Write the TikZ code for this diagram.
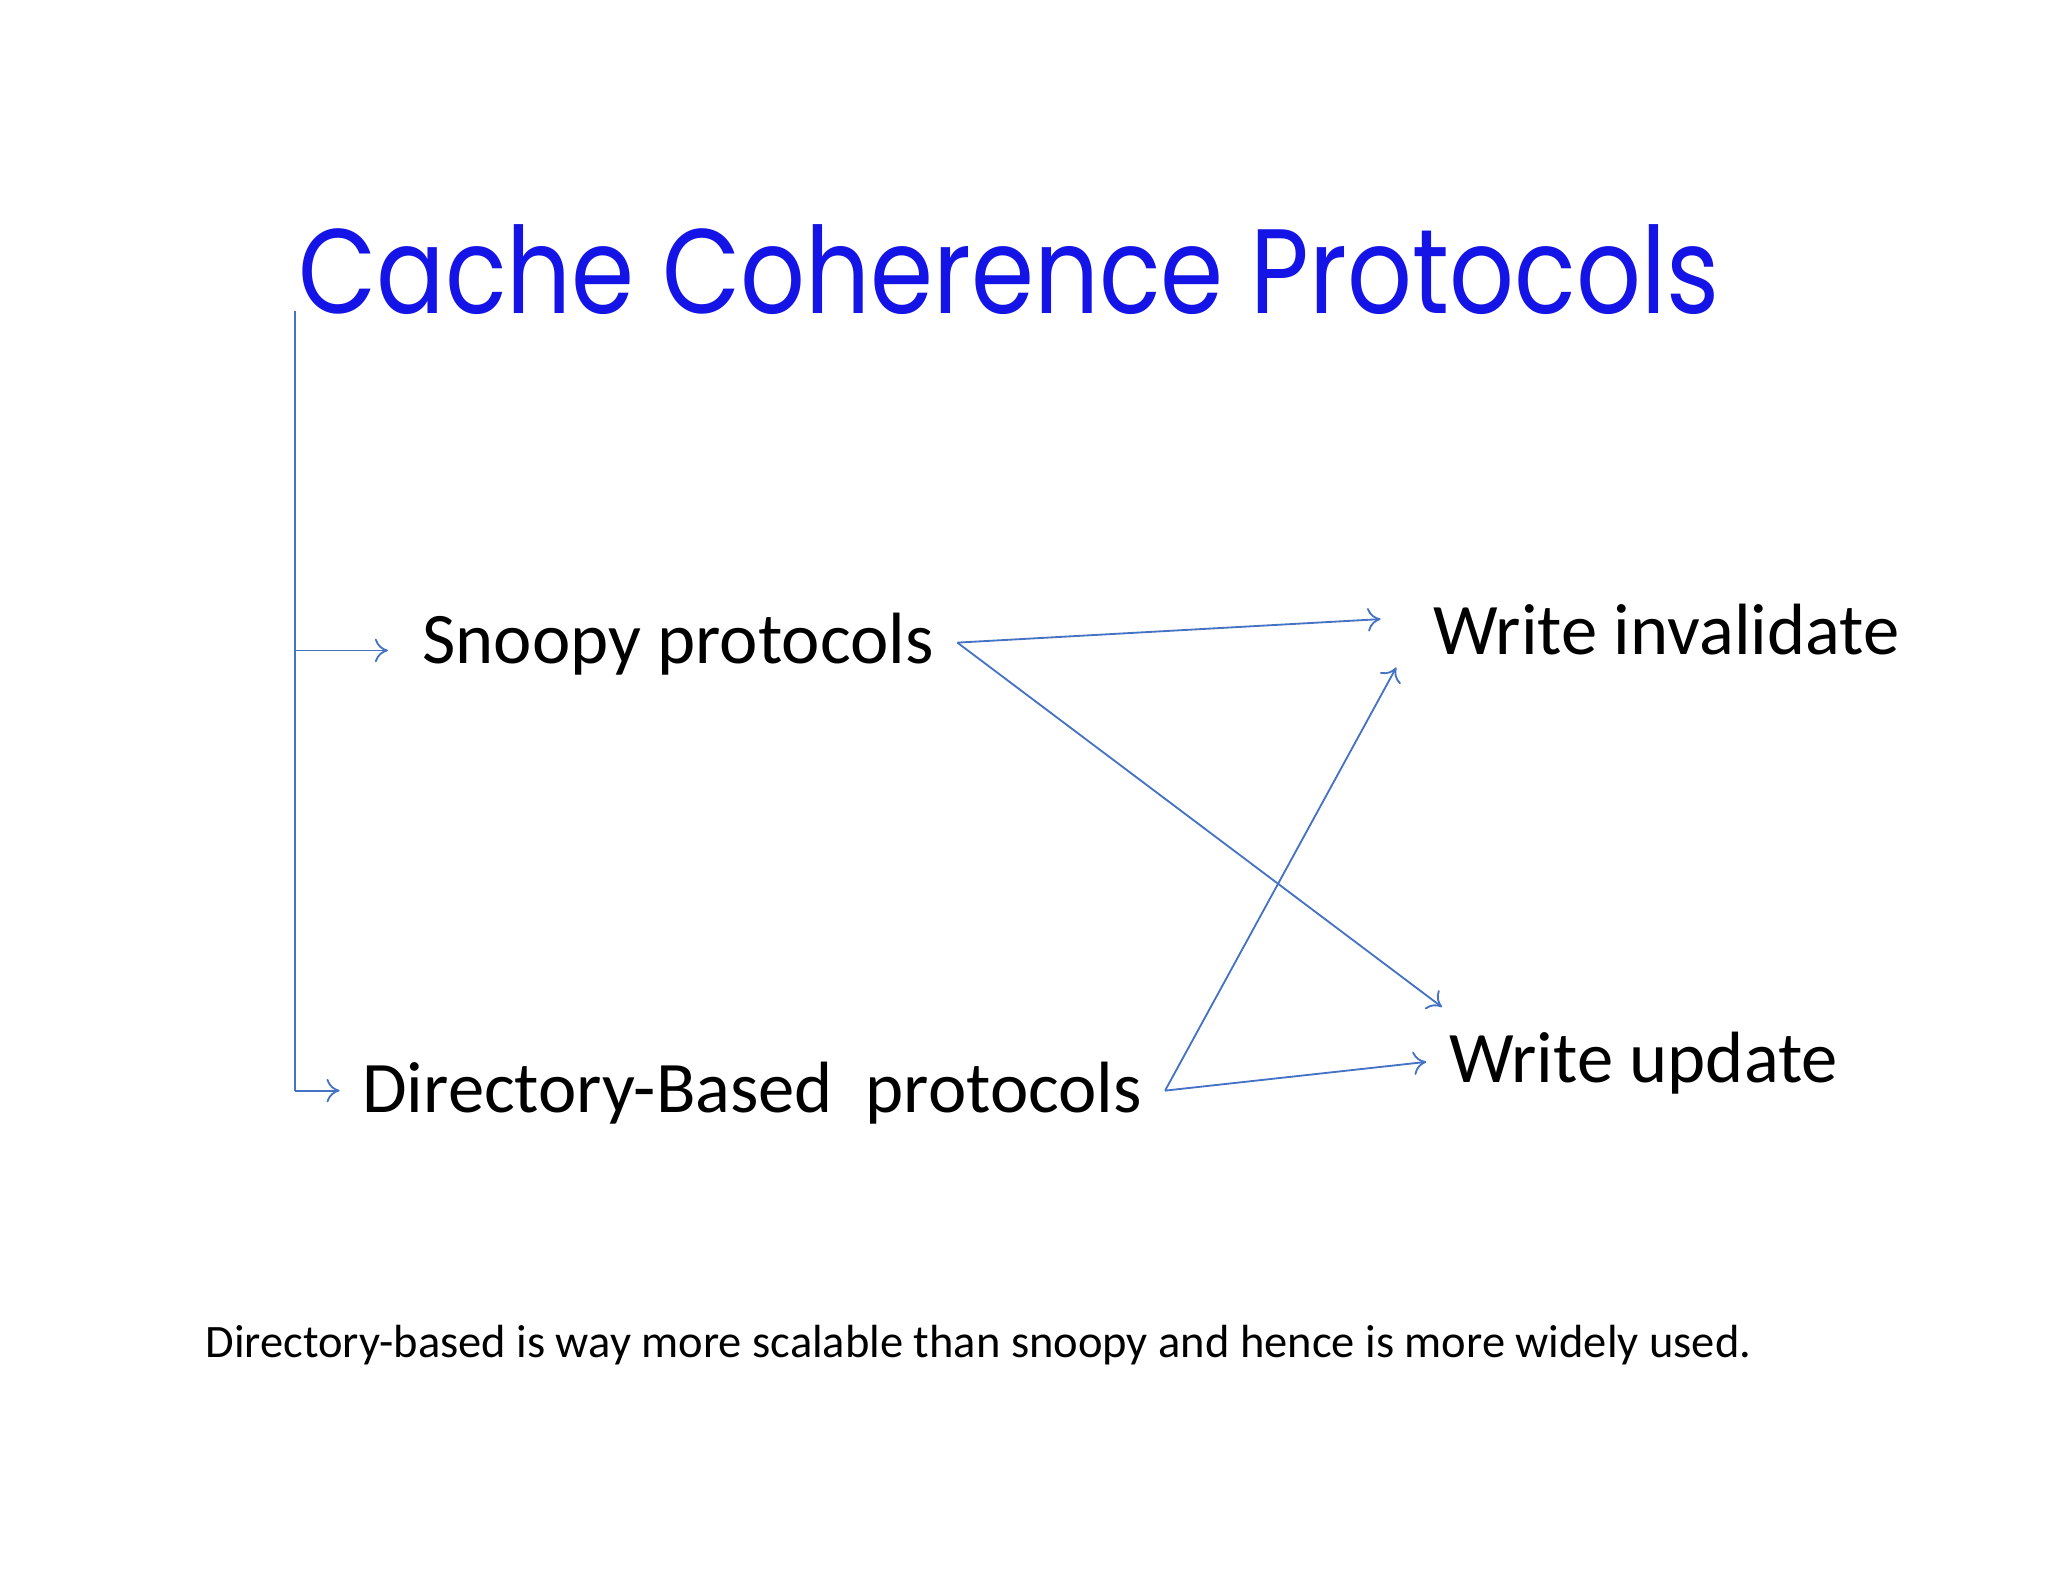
\documentclass[tikz,border=0pt]{standalone}
\usepackage{fontspec}
\usetikzlibrary{arrows.meta}
\setmainfont{Carlito}
\newfontfamily\titlefont{Poppins}
\begin{document}
\begin{tikzpicture}[x=0.5pt,y=-0.5pt,
  conn/.style={draw={rgb,255:red,68;green,114;blue,196},line width=0.7pt,-{To[length=5pt,width=9pt]}},
  lbl/.style={anchor=west,inner sep=0pt,font=\fontsize{27.8}{32}\selectfont}]
\useasboundingbox (0,0) rectangle (1568,1211);
\node[anchor=base west,inner sep=0pt,text={rgb,255:red,20;green,20;blue,230},font=\titlefont\fontsize{46}{50}\selectfont] (title) at (228,240) {\scalebox{0.845}[1]{Cache Coherence Protocols}};
\node[lbl] (snoopy) at (323,493) {Snoopy protocols};
\node[lbl] (dir) at (277,837) {Directory-Based\ \ protocols};
\node[lbl] (wi) at (1097,482) {Write invalidate};
\node[lbl] (wu) at (1109,814) {Write update};
\node[anchor=west,inner sep=0pt,font=\fontsize{17.8}{20}\selectfont] (note) at (157,1030) {Directory-based is way more scalable than snoopy and hence is more widely used.};
\coordinate (top) at (226,238);
\coordinate (b1) at (226,498);
\coordinate (b2) at (226,835);
\coordinate (s1) at (733,492);
\coordinate (d1) at (892,835);
\coordinate (t1) at (1057,474);
\coordinate (t2) at (1104,771);
\coordinate (t3) at (1069,511);
\coordinate (t4) at (1092,813);
\draw[conn,-] (top) -- (b2);
\draw[conn] (b1) -- (297,498);
\draw[conn] (b2) -- (260,835);
\draw[conn] (s1) -- (t1);
\draw[conn] (s1) -- (t2);
\draw[conn] (d1) -- (t3);
\draw[conn] (d1) -- (t4);
\end{tikzpicture}
\end{document}
